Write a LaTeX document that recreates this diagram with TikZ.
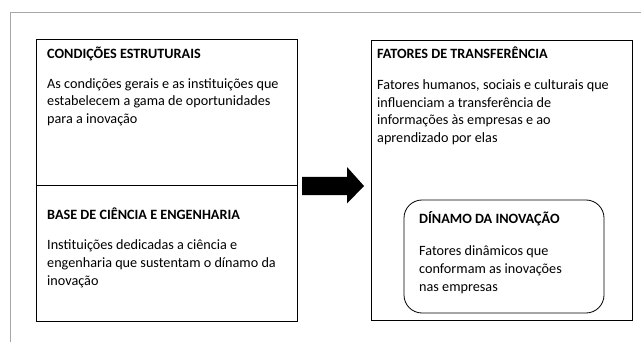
\documentclass[tikz,border=0pt]{standalone}
\usepackage{fontspec}
\setmainfont{Carlito}
\begin{document}
\begin{tikzpicture}[x=1pt,y=1pt]
	\tikzstyle{every node}+=[inner sep=0pt, anchor=base west, align=left, font=\fontsize{14.2}{17.6}\selectfont]
	\tikzstyle{head}=[font=\fontsize{14.2}{17.6}\selectfont\bfseries]
	\useasboundingbox (0,0) rectangle (641,-342);
	\draw [gray!70, line width=0.9pt] (10,-342) -- (10,-12) -- (641,-12);
	\draw [black, line width=0.8pt] (36,-39) rectangle (297.5,-321);
	\draw [black, line width=0.8pt] (36,-185.5) -- (297.5,-185.5);
	\draw [black, line width=0.8pt] (371.5,-40) rectangle (632.5,-320);
	\draw [black, line width=0.8pt, rounded corners=18pt] (404,-200) rectangle (604,-313);
	% multi-line nodes sit on the baseline of their last line
	\node (condH) [head] at (47,-58.3) {CONDIÇÕES ESTRUTURAIS};
	\node (condT) at (47,-123.5) {As condições gerais e as instituições que\\estabelecem a gama de oportunidades\\para a inovação};
	\node (baseH) [head] at (47,-220) {BASE DE CIÊNCIA E ENGENHARIA};
	\node (baseT) at (47,-285.2) {Instituições dedicadas a ciência e\\engenharia que sustentam o dínamo da\\inovação};
	\node (fatH) [head] at (377,-59) {FATORES DE TRANSFERÊNCIA};
	\node (fatT) at (377,-142.3) {Fatores humanos, sociais e culturais que\\influenciam a transferência de\\informações às empresas e ao\\aprendizado por elas};
	\node (dinH) [head] at (419,-224) {DÍNAMO DA INOVAÇÃO};
	\node (dinT) at (419,-291.2) {Fatores dinâmicos que\\conformam as inovações\\nas empresas};
	\coordinate (arrS) at (302,-186);
	\coordinate (arrE) at (364,-186);
	\fill [black] (arrS) ++(0,9.2) -- ++(45,0) -- ++(0,9.8) -- (arrE) -- ++(-17,-17.5) -- ++(0,8.3) -- ++(-45,0) -- cycle;
\end{tikzpicture}
\end{document}
